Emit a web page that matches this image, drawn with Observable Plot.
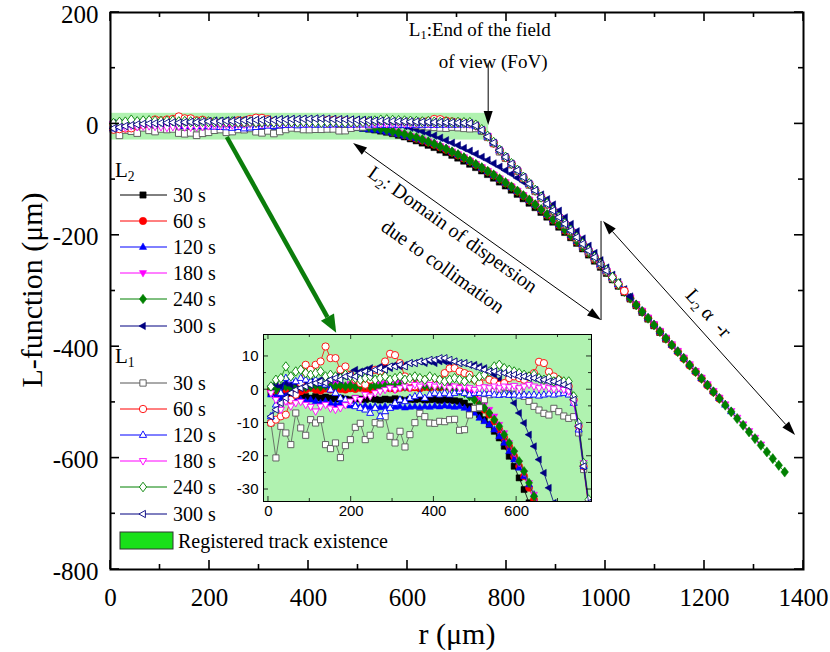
<!DOCTYPE html>
<html><head><meta charset="utf-8">
<script src="https://cdn.jsdelivr.net/npm/d3@7"></script>
<script src="https://cdn.jsdelivr.net/npm/@observablehq/plot@0.6"></script>
<style>
body{margin:0;background:#fff;}
#wrap{position:relative;width:830px;height:652px;overflow:hidden;}
#wrap svg{position:absolute;}
</style></head><body><div id="wrap"></div>
<script>
// ---------- data ----------
const r = [6,18,30,42,54,66,78,90,102,114,126,138,150,162,174,186,198,210,222,234,246,258,270,282,294,306,318,330,342,354,366,378,390,402,414,426,438,450,462,474,486,498,510,522,534,546,558,570,582,594,606,618,630,642,654,666,678,690,702,714,726,738,750,762,774,786,798,810,822,834,846,858,870,882,894,906,918,930,942,954,966,978,990,1002,1014,1026,1038,1050,1062,1074,1086,1098,1110,1122,1134,1146,1158,1170,1182,1194,1206,1218,1230,1242,1254,1266,1278,1290,1302,1314,1326,1338,1350,1362];
const seriesNames = ["30 s","60 s","120 s","180 s","240 s","300 s"];

// L2 (filled markers)
const L2_30 = [-1,-1.5,-1,-2,-1.5,-2,-2.5,-2,-2.5,-2,-2.5,-2.2,-2.5,-2.8,-2.5,-2.8,-3,-2.6,-2.8,-3,-2.7,-2.9,-3.1,-2.8,-3,-2.7,-3,-3.2,-2.9,-3,-2.8,-3.1,-3,-2.9,-3.2,-3,-3.1,-3.3,-3.5,
 -4,-5,-6,-7.5,-9,-10.5,-12.5,-14.5,-17,-20,-23,-26.5,-30,-34,-38,-42,-46.5,-51,-56,-61,-66.5,-72,-78,-84,-90.5,-97,-104,-111,-118.5,-126,-134,-142,-150,-158.5,-167,-176,-185,-194.5,-204,-214,-224,-235,-246,-257,-268,-279.5,-291,-302.5,-314,-326,-338,-350,-362,-374,-386];
const L2_60 = [0,-0.5,0.5,0,0.5,0,-0.5,0,0.5,0,-0.3,0.3,0,0.5,0.2,0,0.4,0.2,0.5,0.3,0,0.5,0.3,0.6,0.4,0.2,0.5,0.8,0.5,0.7,0.4,0.8,0.6,0.9,0.7,0.9,0.8,0.6,0.5,
 0,-1,-2,-4,-6,-7.5,-9.5,-12,-14.5,-17,-20,-23,-26,-29.5,-33,-37,-41.5,-46,-51,-56,-61.5,-67,-73,-79,-85.5,-92,-99,-106,-113,-121,-129,-137,-145,-154,-163,-172,-181,-191,-201,-211,-221,-232,-243,-254,-265,-277,-289,-300.5,-313,-325,-336.5,-349,-361,-373,-385.5,-397,-409,-421,-433.5,-445,-457,-469,-481,-493];
const L2_120 = [-1.5,-2,-2.5,-2,-3,-2.5,-3,-3.5,-3,-3.5,-4,-3.5,-4,-4.5,-4,-4.5,-4.8,-4.5,-5,-4.8,-5.2,-5,-5.3,-5,-5.4,-5.2,-5,-5.4,-5.2,-5,-5.3,-5,-5.2,-4.9,-5.1,-4.8,-5,-5.2,-5,
 -5.5,-6,-7,-8.5,-9.5,-10.5,-12,-14,-16,-18.5,-21,-23.5,-26,-28.5,-31.5,-35,-39,-44,-49.5,-55,-60.5,-66.5,-72.5,-78.5,-85,-91.5,-98.5,-105.5,-113,-120.5,-128.5,-136.5,-145,-153.5,-162.5,-171.5,-180.5,-190,-200,-210,-220.5,-231,-242,-253,-264.5,-276,-288,-300,-312,-324,-335.5,-348,-360,-372,-384,-396.5,-408,-420,-432,-444,-456.5,-468,-480,-492,-504,-516];
const L2_180 = [0.5,1,0.5,1,1.5,1,1.5,1,1.5,2,1.5,1,1.5,2,1.5,1.2,1.8,1.5,2,1.6,1.8,2.2,1.8,2,2.4,2.1,2.5,2.2,2.6,2.3,2.5,2.2,2.4,2,1.8,1.5,1.2,0.8,0.5,
 0,-1,-2,-3,-4.5,-6,-8,-10.5,-13,-16,-19,-22,-25,-28,-31.5,-35.5,-40,-44.5,-49.5,-54.5,-60,-66,-72,-78,-84.5,-91,-98,-105,-112.5,-120,-128,-136,-144.5,-153,-162,-171,-180,-190,-200,-210,-220,-231,-242,-253,-264,-276,-287.5,-299.5,-311.5,-323.5,-335.5,-347.5,-359.5,-371.5,-383.5,-395.5,-407.5,-419.5,-431.5,-443.5,-455.5,-467.5,-479.5,-491.5,-503.5,-515.5,-527.5,-539.5,-551.5,-563.5,-575.5];
const L2_240 = [0.5,0,0.5,1,0.5,1,1.2,0.8,1,1.3,0.9,1.2,1,0.9,1.3,1,1.2,0.9,1.1,1.4,1,1.2,0.8,1.1,1.3,1,1.2,0.9,1.1,1.3,1,1.2,1,0.8,1,0.7,0.5,0.2,-0.3,
 -1,-2,-3,-4.5,-5.5,-7,-9,-11,-13.5,-16,-18.5,-21.5,-24.5,-28,-32,-36,-40.5,-45,-50,-55,-60.5,-66.5,-72.5,-78.5,-85,-91.5,-98.5,-105.5,-113,-120.5,-128.5,-136.5,-145,-153.5,-162.5,-171.5,-180.5,-190,-200,-210,-220.5,-231,-242,-253,-265,-277,-289,-301,-313,-325,-337,-349,-361,-373,-385,-397,-409,-421,-433,-445,-457,-469,-481,-493,-505,-517,-529,-541,-553,-565,-577,-589,-601,-613,-625];
const L2_300 = [1,1.5,1,2,1.5,2,2.5,2,2.5,2,3,3.5,3,4,4.5,4,5,6,5.5,6,6.5,6,7,7,6.5,7.5,7,7.5,8,8,8.5,8,8.5,8,8.5,8.5,8,8.5,8,
 8,7.5,7.5,7,6.5,5.5,4.5,3,1,-1.5,-4,-7,-10,-13.5,-17,-21,-25,-29.5,-34,-38.5,-43.5,-48.5,-54,-59.5,-65,-71,-77,-83.5,-90,-97,-104,-111.5,-119,-127,-135.5,-145,-156,-168,-180,-193,-206,-219,-232,-245,-258,-271,-284,-297,-310];

// L1 (open markers)
const L1_30 = [-10,-20.5,-11,-13,-16.5,-7,-11.5,-13.7,-9,-10,-9,-16.5,-17.7,-16,-20.4,-16.8,-15,-11.3,-10.1,-15,-13.7,-9.9,-10.3,-8.1,-14,-16,-12.5,-17.2,-13.5,-9.9,-7.1,-8.1,-10,-10.1,-9.5,-9.6,-9,-8.9,-12.2,-12,-7.6,-5.6,-5.4,-3,-1.5,-0.5,0.2,0.8,0.7,0.5,-0.5,-2,-3.5,-5,-6.1,-7.1,-7.6,-5.6,-6.6,-7.9,-8.6,-8.1,
 -13,-24,-35,-50,-61.5,-73,-85,-97,-109.5,-121,-133,-145,-157.5,-169,-181,-193,-205.5,-217,-229,-241,-253.5,-265,-277];
const L1_60 = [-10,-9,-8,-7.5,-3,-1.5,2,7.5,6,7.5,8.5,13,9.5,9.5,6,7,4.5,3,2,1.5,3,6,5.5,8.5,10.8,10.4,8,4,2.5,1,2,3,2.5,1.5,3,5,6.4,6.5,5.5,5,4.5,3,2,3.9,3,2.5,1.5,2,3.5,4,3.5,3,4,5,8.4,8,5.4,4,3,2,1,-3,
 -11,-23,-35,-48,-60.5,-72,-84,-96.5,-108,-120,-132,-144.5,-156,-168,-180,-192.5,-204,-216,-228,-240.5,-252,-264,-276,-288,-300];
const L1_120 = [-8,-4.5,-1,3.5,3,2.5,3.5,3,2.5,3,2,1.5,0,-1,-2.5,-3,-4,-5,-5.5,-6,-7,-5.5,-8,-6.5,-5.5,-4,-3,-3.5,-2.5,-2,-1.5,-2.5,-1.5,-1,-1.5,-1,-1.5,-1,-0.5,-1,-1.5,-1,-1,-1.2,-1,-1.5,-1.6,-1.4,-1.6,-1.5,-1.8,-1.5,-1.6,-1.5,-1.8,-1.5,-1.2,-1.5,-1.2,-1,-1.5,-4,
 -12,-23,-34,-47.5,-59,-71.5,-83,-95,-107.5,-119,-131,-143.5,-155,-167,-179.5,-191,-203,-215.5,-227,-239,-251.5,-263,-275,-287.5];
const L1_180 = [-1,-3,-6,-3.5,-5,-4,-3.6,-4.5,-5.1,-6.5,-5,-4.5,-5.6,-6,-5.5,-4.6,-3.5,-2.5,-3,-1.5,-2,-1,-0.5,0,0.5,0,0.5,1,0.5,1.5,1,2,1.5,1,1.5,1,0.5,1,0.5,1,0.5,0,0.5,0.8,0.5,1,0.5,1,0.8,1.2,0.5,1,1.5,1,0.5,1,0.5,0.2,0.5,0,-0.5,-4,
 -11,-22,-34,-48.5,-60.5,-72.5,-84.5,-96.5,-108.5,-120.5,-132.5,-144.5,-156.5,-168.5,-180.5,-192.5,-204.5,-216.5,-228.5,-240.5,-252.5,-264.5,-276.5,-288.5];
const L1_240 = [1,3,3.5,7,4,5.5,6,5,4.5,5,5.5,4,4.5,4,3.5,4.5,4,3.5,3,3.5,4,3,3.5,4,3,3.5,4,3,3.5,4,3.5,3,4,3.5,3,2.5,3,3.5,3,2.5,3.5,3,4,4.5,5.5,7,7.5,6.5,6,5.5,5,4.5,4,4.5,3.5,3,3.5,2.5,3,2.5,2.5,-2,
 -10,-22,-33,-47,-59.5,-71,-83,-95.5,-107,-119,-131.5,-143,-155,-167.5,-179,-191,-203.5,-215,-227,-239.5,-251,-263,-275.5,-287];
const L1_300 = [-8,-6,-4,-2.5,-1,0,0.5,1,1.5,2,2.5,2,3,3.5,3,4,4.5,4,5,5.5,5,6,6.5,6,7,7,7.5,7,8,8,8.5,8.5,9,9,9.5,9.5,9,8.5,8,8,7.5,7,6.5,6,5.5,5.5,5,5,4.5,4.5,4,4,3.5,3.5,3,3,2.5,2.5,2,1.5,1,-3,
 -11,-23,-34,-47.5,-59.5,-71.5,-83.5,-95.5,-107.5,-119.5,-131.5,-143.5,-155.5,-167.5,-179.5,-191.5,-203.5,-215.5,-227.5,-239.5,-251.5,-263.5];

// registered track existence band
const bandR = [0, 764];
const bandL = [-29, 19];

// tick values
const xTicks = [0,200,400,600,800,1000,1200,1400];
const xMinor = [100,300,500,700,900,1100,1300];
const yTicks = [-800,-600,-400,-200,0,200];
const yMinor = [-700,-500,-300,-100,100];
const inXTicks = [0,200,400,600];
const inXMinor = [100,300,500,700];
const inYTicks = [-30,-20,-10,0,10];
const inYMinor = [-25,-15,-5,5,15];

// ---------- styling ----------
const colors = ["#000000","#ff0000","#0000ff","#ff00ff","#008000","#000080"];
const L1stroke = ["#555555","#ff0000","#0000ff","#ff00ff","#008000","#000080"];
const bandColor = "#b0f2b0";
const serif = "'Liberation Serif','Times New Roman',serif";
const sans = "'Liberation Sans',Arial,sans-serif";

function poly(pts){ return {draw(ctx, size){ const s = Math.sqrt(size/Math.PI);
  ctx.moveTo(pts[0][0]*s, pts[0][1]*s); for (let i=1;i<pts.length;i++) ctx.lineTo(pts[i][0]*s, pts[i][1]*s); ctx.closePath(); }}; }
const symSquare = poly([[-0.85,-0.85],[0.85,-0.85],[0.85,0.85],[-0.85,0.85]]);
const symCircle = {draw(ctx, size){ const s = Math.sqrt(size/Math.PI); ctx.moveTo(s,0); ctx.arc(0,0,s,0,2*Math.PI); ctx.closePath(); }};
const symUp = poly([[0,-1.1],[0.98,0.65],[-0.98,0.65]]);
const symDown = poly([[0,1.1],[0.98,-0.65],[-0.98,-0.65]]);
const symDiamond = poly([[0,-1.3],[0.98,0],[0,1.3],[-0.98,0]]);
const symLeft = poly([[-1.1,0],[0.65,-0.98],[0.65,0.98]]);
const syms = [symSquare, symCircle, symUp, symDown, symDiamond, symLeft];

const L2 = [L2_30, L2_60, L2_120, L2_180, L2_240, L2_300];
const L1 = [L1_30, L1_60, L1_120, L1_180, L1_240, L1_300];
const rows = arr => arr.map((v,k) => ({r: r[k], L: v}));

function seriesMarks(filter, rad, extra) {
  const m = [];
  L2.forEach((arr,i) => {
    const d = rows(arr).filter(filter);
    m.push(Plot.line(d, {x:"r", y:"L", stroke: colors[i], strokeWidth: 0.8, ...extra}));
    m.push(Plot.dot(d, {x:"r", y:"L", symbol: syms[i], r: rad, fill: colors[i], stroke: colors[i], strokeWidth: 0.5, ...extra}));
  });
  L1.forEach((arr,i) => {
    const d = rows(arr).filter(filter);
    m.push(Plot.line(d, {x:"r", y:"L", stroke: L1stroke[i], strokeWidth: 0.8, ...extra}));
    m.push(Plot.dot(d, {x:"r", y:"L", symbol: syms[i], r: rad, fill: "white", stroke: L1stroke[i], strokeWidth: 0.9, ...extra}));
  });
  return m;
}

const fmt = d => String(d);

// ---------- main plot ----------
const main = Plot.plot({
  width: 830, height: 652,
  marginTop: 12, marginRight: 27, marginBottom: 83, marginLeft: 110,
  x: {domain: [0, 1400]},
  y: {domain: [-800, 200]},
  style: {fontFamily: serif, fontSize: "25px", color: "#000", background: "transparent", overflow: "visible"},
  marks: [
    Plot.rect([{x1: bandR[0], x2: bandR[1], y1: bandL[0], y2: bandL[1]}], {x1:"x1", x2:"x2", y1:"y1", y2:"y2", fill: bandColor}),
    ...seriesMarks(() => true, 3.9, {}),
    Plot.axisX({ticks: xTicks, tickSize: 0, tickPadding: 19, label: null, tickFormat: fmt}),
    Plot.axisY({ticks: yTicks, tickSize: 0, tickPadding: 12, dy: 2, label: null, tickFormat: fmt}),
    Plot.frame({stroke: "#000", strokeWidth: 2})
  ]
});

// ---------- inset ----------
const inset = Plot.plot({
  width: 380, height: 200,
  marginTop: 9, marginRight: 9, marginBottom: 24, marginLeft: 43,
  x: {domain: [-12, 781]},
  y: {domain: [-33.6, 16.6]},
  style: {fontFamily: sans, fontSize: "15px", color: "#000", background: "transparent", overflow: "visible"},
  marks: [
    Plot.frame({fill: bandColor, stroke: null}),
    ...seriesMarks(d => d.r <= 800 && d.L >= -70, 3.6, {clip: true}),
    Plot.axisX({ticks: inXTicks, tickSize: 0, tickPadding: 4, label: null, tickFormat: fmt}),
    Plot.axisY({ticks: inYTicks, tickSize: 0, tickPadding: 5, label: null, tickFormat: fmt}),
    Plot.frame({stroke: "#000", strokeWidth: 1})
  ]
});

const wrap = document.getElementById("wrap");
wrap.appendChild(main);
main.style.left = "0px"; main.style.top = "0px";
wrap.appendChild(inset);
inset.style.left = "220px"; inset.style.top = "325px";

// inward tick marks on all four sides
function addTicks(svg, plot, xM, xm, yM, ym, lM, lm, sw) {
  const x = plot.scale("x"), y = plot.scale("y");
  const xr = [x.apply(x.domain[0]), x.apply(x.domain[1])];
  const yr = [y.apply(y.domain[0]), y.apply(y.domain[1])];
  const g = d3.select(svg).append("g").attr("stroke", "#000").attr("stroke-width", sw);
  for (const [vals, len] of [[xM, lM], [xm, lm]]) for (const v of vals) {
    const p = x.apply(v);
    g.append("line").attr("x1", p).attr("x2", p).attr("y1", yr[0]).attr("y2", yr[0] - len);
    g.append("line").attr("x1", p).attr("x2", p).attr("y1", yr[1]).attr("y2", yr[1] + len);
  }
  for (const [vals, len] of [[yM, lM], [ym, lm]]) for (const v of vals) {
    const p = y.apply(v);
    g.append("line").attr("y1", p).attr("y2", p).attr("x1", xr[0]).attr("x2", xr[0] + len);
    g.append("line").attr("y1", p).attr("y2", p).attr("x1", xr[1]).attr("x2", xr[1] - len);
  }
}
addTicks(main, main, xTicks, xMinor, yTicks, yMinor, 9, 5, 1.6);
addTicks(inset, inset, inXTicks, inXMinor, inYTicks, inYMinor, 5, 3, 0.8);

// ---------- annotations (main svg) ----------
const sx = v => main.scale("x").apply(v), sy = v => main.scale("y").apply(v);
const g = d3.select(main).append("g");

function head(x1, y1, x2, y2, len, hw, color) {
  const a = Math.atan2(y2 - y1, x2 - x1);
  const bx = x2 - len * Math.cos(a), by = y2 - len * Math.sin(a);
  const px = -Math.sin(a) * hw, py = Math.cos(a) * hw;
  g.append("path").attr("d", `M${x2},${y2}L${bx + px},${by + py}L${bx - px},${by - py}Z`).attr("fill", color);
  return [bx, by];
}
function arrow(x1, y1, x2, y2, opts) {
  const {both = false, len = 13, hw = 4.5, color = "#000", sw = 1} = opts || {};
  let [ex, ey] = head(x1, y1, x2, y2, len, hw, color);
  let sxp = x1, syp = y1;
  if (both) { [sxp, syp] = head(x2, y2, x1, y1, len, hw, color); }
  g.append("line").attr("x1", sxp).attr("y1", syp).attr("x2", ex).attr("y2", ey)
    .attr("stroke", color).attr("stroke-width", sw);
}
function label(parent, x, y, parts, size, angle, anchor) {
  const t = parent.append("text").attr("transform", `translate(${x},${y}) rotate(${angle || 0})`)
    .attr("text-anchor", anchor || "middle").attr("dominant-baseline", "central")
    .attr("font-family", serif).attr("font-size", size).attr("fill", "#000");
  let shifted = 0;
  for (const p of parts) {
    const sub = Array.isArray(p);
    const s = t.append("tspan").text(sub ? p[0] : p);
    if (sub) { s.attr("font-size", size * 0.65).attr("dy", size * 0.3); shifted = 1; }
    else if (shifted) { s.attr("dy", -size * 0.3); shifted = 0; }
  }
  return t;
}

// FoV annotation
label(g, sx(747), sy(169.5), ["L", ["1"], ":End of the field"], 19);
label(g, sx(774), sy(112), ["of view (FoV)"], 19);
arrow(sx(764), sy(108), sx(764), sy(-3), {len: 14, hw: 4.5});

// dispersion domain
arrow(sx(491), sy(-35.2), sx(992), sy(-353), {both: true, len: 14, hw: 4.5});
g.append("line").attr("x1", sx(992)).attr("x2", sx(992)).attr("y1", sy(-175)).attr("y2", sy(-353))
  .attr("stroke", "#000").attr("stroke-width", 1);
label(g, sx(693), sy(-189.5), ["L", ["2"], ": Domain of dispersion"], 20, 35.5);
label(g, sx(673), sy(-256), ["due to collimation"], 20, 35.5);

// L2 proportional to -r
arrow(sx(996), sy(-175.2), sx(1384), sy(-559.3), {both: true, len: 14, hw: 4.5});
label(g, sx(1210), sy(-340), ["L", ["2"], " α  -r"], 20, 48);

// green arrow to inset
arrow(sx(236), sy(-24.4), sx(457), sy(-376), {len: 18, hw: 7.5, color: "#0b7d0b", sw: 4.5});

// axis titles
g.append("text").attr("x", 457).attr("y", 633).attr("text-anchor", "middle").attr("dominant-baseline", "central")
  .attr("font-family", serif).attr("font-size", 30).text("r (μm)");
g.append("text").attr("transform", "translate(31,290) rotate(-90)").attr("text-anchor", "middle")
  .attr("dominant-baseline", "central").attr("font-family", serif).attr("font-size", 30).text("L-function (μm)");

// ---------- legend ----------
function symPath(sym, rad) { const p = d3.path(); sym.draw(p, rad * rad * Math.PI); return p.toString(); }
const lg = d3.select(main).append("g");
const rowsL2 = [195, 221, 247, 273, 299, 326];
const rowsL1 = [383, 409, 435, 461, 487, 514];
label(lg, 115, 170, ["L", ["2"]], 21, 0, "start");
label(lg, 115, 356, ["L", ["1"]], 21, 0, "start");
seriesNames.forEach((name, i) => {
  for (const [yy, filled, strk] of [[rowsL2[i], true, colors[i]], [rowsL1[i], false, L1stroke[i]]]) {
    lg.append("line").attr("x1", 120).attr("x2", 167).attr("y1", yy).attr("y2", yy).attr("stroke", strk).attr("stroke-width", 1);
    lg.append("path").attr("d", symPath(syms[i], 3.7)).attr("transform", `translate(143,${yy})`)
      .attr("fill", filled ? colors[i] : "white").attr("stroke", strk).attr("stroke-width", filled ? 0.5 : 0.9);
    lg.append("text").attr("x", 173).attr("y", yy).attr("text-anchor", "start").attr("dominant-baseline", "central")
      .attr("font-family", serif).attr("font-size", 20).text(name);
  }
});
lg.append("rect").attr("x", 120).attr("y", 532).attr("width", 53).attr("height", 17)
  .attr("fill", "#19e019").attr("stroke", "#333").attr("stroke-width", 1);
lg.append("text").attr("x", 178).attr("y", 541).attr("text-anchor", "start").attr("dominant-baseline", "central")
  .attr("font-family", serif).attr("font-size", 20).text("Registered track existence");
</script>
</body></html>
